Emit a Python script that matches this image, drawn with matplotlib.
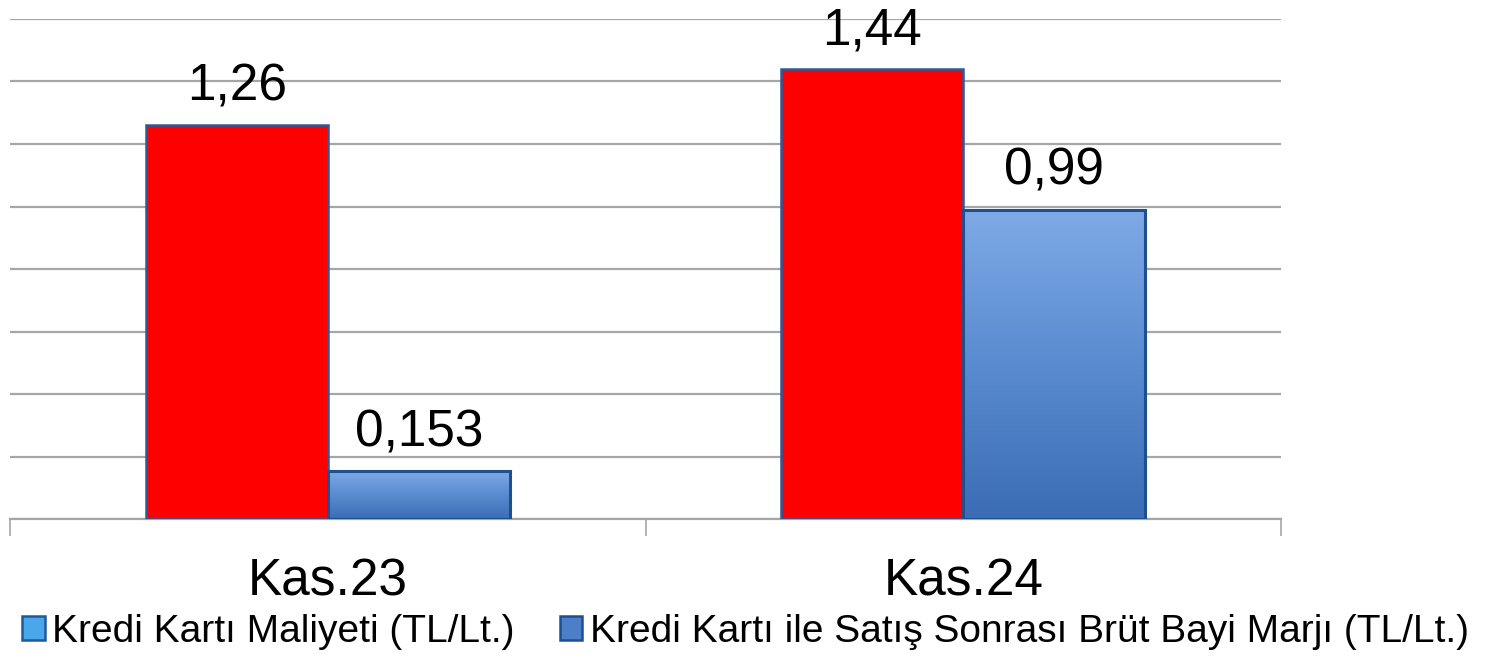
import matplotlib
matplotlib.use("Agg")
import matplotlib.pyplot as plt
import numpy as np
from matplotlib.patches import Patch
from matplotlib.colors import LinearSegmentedColormap

categories = ["Kas.23", "Kas.24"]
series_names = ["Kredi Kartı Maliyeti (TL/Lt.)",
                "Kredi Kartı ile Satış Sonrası Brüt Bayi Marjı (TL/Lt.)"]
cost_values = [1.26, 1.44]
margin_values = [0.153, 0.99]
cost_labels = ["1,26", "1,44"]
margin_labels = ["0,153", "0,99"]

plt.rcParams['font.family'] = ['Liberation Sans', 'DejaVu Sans']

fig = plt.figure(figsize=(15.04, 6.59), dpi=100)
W, H = 1504, 659
ax = fig.add_axes([10 / W, (H - 519) / H, (1281 - 10) / W, (519 - 19) / H])

x = np.arange(len(categories))
bw = 182 / 635.5
edge = '#1f4f8f'

red = ax.bar(x - bw / 2, cost_values, bw, color='#ff0000', edgecolor='#2b5a98',
             linewidth=1.8, zorder=3)
blue = ax.bar(x + bw / 2, margin_values, bw, color='none', edgecolor=edge,
              linewidth=2.2, zorder=4)

cmap = LinearSegmentedColormap.from_list('bl', ['#3a6db5', '#5a8bd0', '#7eaae6'])
grad = np.linspace(0, 1, 256).reshape(-1, 1)
for b in blue:
    x0, y0 = b.get_x(), b.get_y()
    w, h = b.get_width(), b.get_height()
    im = ax.imshow(grad, extent=[x0, x0 + w, y0, y0 + h], origin='lower',
                   cmap=cmap, aspect='auto', zorder=3.5)
    im.set_clip_path(b)

ax.bar_label(red, labels=cost_labels, padding=10, fontsize=37, color='black')
ax.bar_label(blue, labels=margin_labels, padding=10, fontsize=37, color='black')

ax.set_xlim(-0.5, 1.5)
ax.set_ylim(0, 1.6)
ax.set_yticks(np.arange(0, 1.61, 0.2))
ax.tick_params(axis='y', left=False, labelleft=False)
ax.grid(axis='y', color='#a6a6a6', linewidth=1.6, zorder=0)
ax.set_axisbelow(True)

ax.set_xticks([-0.5, 0.5, 1.5])
ax.set_xticklabels([])
ax.set_xticks(x, minor=True)
ax.set_xticklabels(categories, minor=True, fontsize=37)
ax.tick_params(axis='x', which='major', length=12, width=1.2, color='#a6a6a6', direction='out')
ax.tick_params(axis='x', which='minor', length=0, pad=28)

for s in ['left', 'right', 'top']:
    ax.spines[s].set_visible(False)
ax.spines['bottom'].set_color('#a6a6a6')
ax.spines['bottom'].set_linewidth(1.6)

handles = [Patch(facecolor='#4aa8ea', edgecolor='#1f5a9a', linewidth=1.8),
           Patch(facecolor='#4d7fc8', edgecolor='#1f4f8f', linewidth=1.8)]
fig.legend(handles, series_names, loc='center left', bbox_to_anchor=(22 / W, 1 - 632 / H),
           ncol=2, frameon=False, fontsize=28, handlelength=0.58, handleheight=0.58,
           handletextpad=0.2, columnspacing=1.15, borderpad=0, borderaxespad=0)

fig.savefig('out.png', dpi=100, facecolor='white')
